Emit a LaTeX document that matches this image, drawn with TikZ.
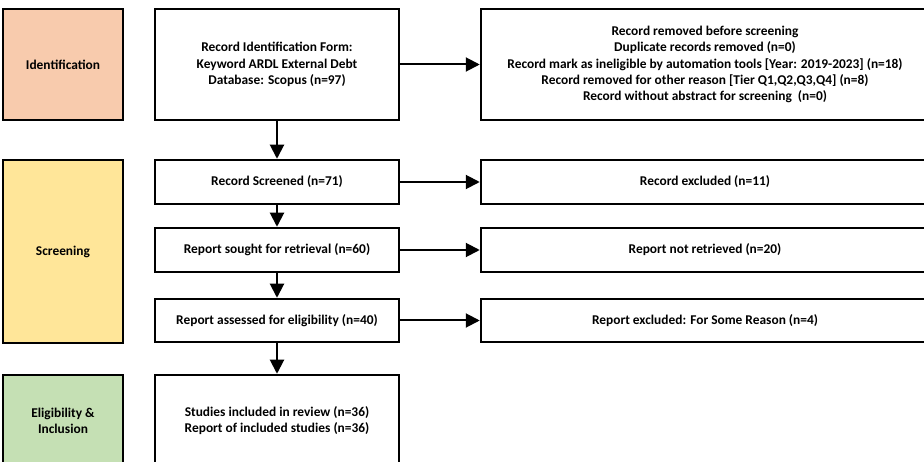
\documentclass[tikz,border=0pt]{standalone}
\usepackage{fontspec}
\setmainfont{Carlito}
\usetikzlibrary{arrows.meta}
\definecolor{idcol}{HTML}{F8CBAD}
\definecolor{scrcol}{HTML}{FFE699}
\definecolor{elcol}{HTML}{C5E0B4}
\begin{document}
\begin{tikzpicture}[x=1pt,y=-1pt,
  box/.style={draw=black, line width=2.5pt, fill=white, align=center,
    font=\fontsize{13.4}{16.3}\selectfont\bfseries, inner sep=0pt},
  arr/.style={line width=2pt, -{Triangle[length=14pt,width=14pt]}}]
\useasboundingbox (0,0) rectangle (924,462);
\clip (0,0) rectangle (924,462);
% stage boxes
\node[box, fill=idcol, minimum width=120pt, minimum height=111pt] (ident) at (63,64.5) {Identification};
\node[box, fill=scrcol, minimum width=120pt, minimum height=183pt] (screen) at (63,251.5) {Screening};
\node[box, fill=elcol, minimum width=120pt, minimum height=91pt] (elig) at (63,420.5) {Eligibility \&\\Inclusion};
% main column
\node[box, minimum width=244pt, minimum height=111pt] (recid) at (277,64.5) {Record Identification Form:\\Keyword ARDL External Debt\\Database: Scopus (n=97)};
\node[box, minimum width=244pt, minimum height=44pt] (scr) at (277,182) {Record Screened (n=71)};
\node[box, minimum width=244pt, minimum height=44pt] (sought) at (277,250) {Report sought for retrieval (n=60)};
\node[box, minimum width=244pt, minimum height=43pt] (assess) at (277,320.5) {Report assessed for eligibility (n=40)};
\node[box, minimum width=244pt, minimum height=91pt] (studies) at (277,420.5) {Studies included in review (n=36)\\Report of included studies (n=36)};
% right column
\node[box, minimum width=448pt, minimum height=111pt] (removed) at (705,64.5) {Record removed before screening\\Duplicate records removed (n=0)\\Record mark as ineligible by automation tools [Year: 2019-2023] (n=18)\\Record removed for other reason [Tier Q1,Q2,Q3,Q4] (n=8)\\Record without abstract for screening~~(n=0)};
\node[box, minimum width=448pt, minimum height=44pt] (excl) at (705,182) {Record excluded (n=11)};
\node[box, minimum width=448pt, minimum height=44pt] (notret) at (705,250) {Report not retrieved (n=20)};
\node[box, minimum width=448pt, minimum height=43pt] (repexcl) at (705,320.5) {Report excluded: For Some Reason (n=4)};
% connectors
\draw[arr] (recid) -- (removed);
\draw[arr] (scr) -- (excl);
\draw[arr] (sought) -- (notret);
\draw[arr] (assess) -- (repexcl);
\draw[arr] (recid) -- (scr);
\draw[arr] (scr) -- (sought);
\draw[arr] (sought) -- (assess);
\draw[arr] (assess) -- (studies);
\end{tikzpicture}
\end{document}
